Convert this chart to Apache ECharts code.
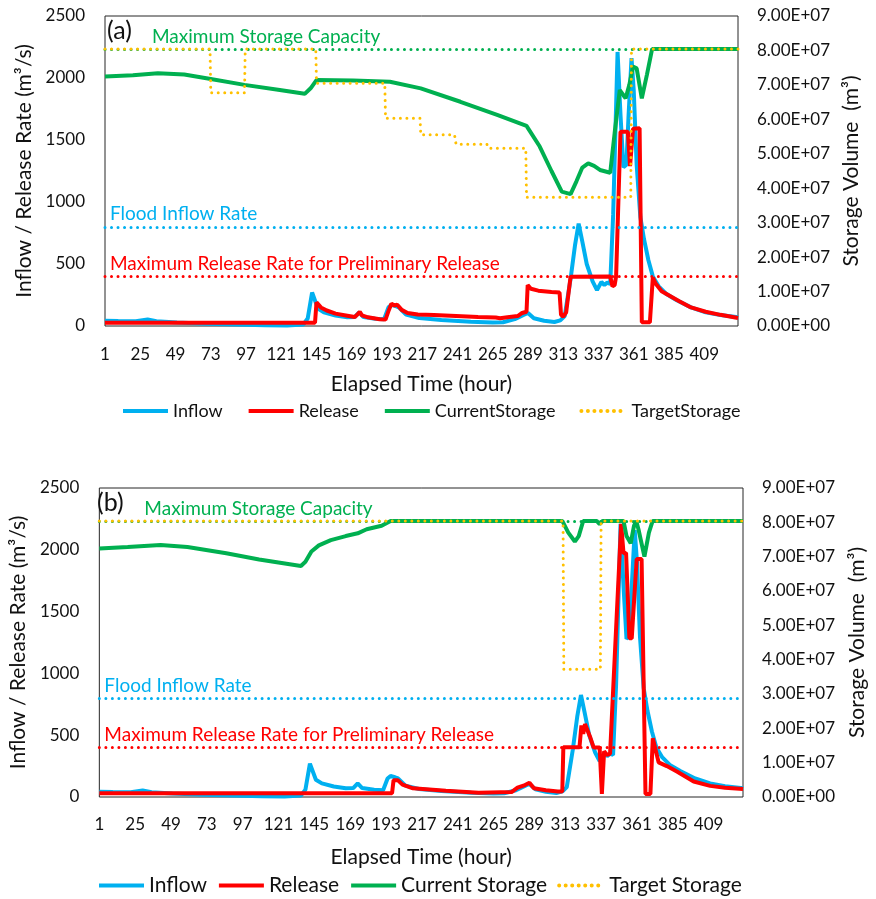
<!DOCTYPE html>
<html><head><meta charset="utf-8">
<script src="https://cdn.jsdelivr.net/npm/echarts/dist/echarts.min.js"></script>
<style>html,body{margin:0;padding:0;background:#fff}#c{width:876px;height:899px}</style>
</head><body><div id="c"></div>
<script>
// ---------- data (hour, value) ----------
const xTickLabels = [1,25,49,73,97,121,145,169,193,217,241,265,289,313,337,361,385,409];
const maxStorageCapacity = 8.04e7;   // m3
const floodInflowRate = 800;         // m3/s
const maxPrelimRelease = 400;        // m3/s

const inflow = [[1,42],[10,40],[22,38],[30,52],[36,38],[50,28],[70,18],[90,12],[110,6],[125,4],[136,12],[139,60],[142,270],[146,140],[150,110],[158,85],[166,70],[171,72],[174,110],[177,72],[185,58],[191,55],[194,150],[196,170],[199,160],[201,150],[206,92],[215,65],[230,48],[250,35],[265,28],[272,30],[280,55],[286,90],[289,105],[293,62],[300,42],[307,32],[311,45],[314,80],[318,380],[321,650],[323.5,825],[326,680],[329,500],[333,360],[336,290],[339,355],[341,330],[343,350],[345,340],[347,900],[350,2210],[352,1700],[354,1280],[356,1300],[357.5,1700],[359.5,2160],[361,1900],[363,1300],[365.5,880],[368,700],[371,530],[374,400],[378,320],[383,260],[390,210],[400,150],[410,110],[420,88],[432,70]];

const releaseA = [[1,27],[144,27],[145,190],[148,150],[152,125],[158,100],[165,85],[171,72],[173,95],[174.5,115],[176,85],[180,70],[188,55],[192,52],[194,120],[196,180],[198,165],[200,172],[203,130],[207,105],[214,92],[225,88],[240,80],[255,72],[267,68],[270,62],[275,70],[282,80],[285,105],[288,115],[288.8,330],[291,300],[296,285],[305,275],[310.5,270],[311.5,90],[313,75],[315,110],[318,398],[345,400],[346.5,320],[348,330],[349,400],[352,1567],[357,1567],[358.5,1290],[360.5,1590],[365,1595],[366.5,30],[372,30],[374,390],[376,340],[380,280],[386,240],[392,200],[400,150],[410,115],[420,90],[432,65]];

const currentStorageA = [[1,7.24e7],[20,7.28e7],[37,7.34e7],[55,7.3e7],[73,7.17e7],[96,7.0e7],[120,6.85e7],[137,6.74e7],[141,6.9e7],[145,7.14e7],[170,7.13e7],[195,7.09e7],[216,6.9e7],[243,6.51e7],[268,6.13e7],[288,5.81e7],[297,5.21e7],[305,4.5e7],[312,3.9e7],[318,3.83e7],[322,4.2e7],[326,4.6e7],[330,4.72e7],[334,4.65e7],[338,4.53e7],[345,4.45e7],[348,5.6e7],[351.5,6.85e7],[354,6.7e7],[355.5,6.61e7],[358,7.0e7],[360.5,7.53e7],[363,7.48e7],[366.5,6.61e7],[370,7.3e7],[373.5,8.04e7],[432,8.04e7]];

const targetStorageA = [[1,8.04e7],[72.5,8.04e7],[73,6.77e7],[96,6.77e7],[96.5,8.04e7],[144.5,8.04e7],[145,7.05e7],[191.5,7.05e7],[192,6.03e7],[215.5,6.03e7],[216,5.55e7],[239,5.55e7],[240,5.28e7],[261,5.28e7],[262,5.16e7],[287.5,5.16e7],[288,3.74e7],[359,3.74e7],[359.5,8.04e7],[432,8.04e7]];

const releaseB = [[1,30],[197,30],[198,135],[201,135],[204,100],[211,70],[233,50],[255,35],[277,40],[281,75],[286,97],[289,115],[292,70],[300,55],[308,45],[311,45],[311.7,402],[322.5,402],[323.8,580],[325,510],[326.2,590],[329.5,490],[332,400],[336,400],[337.5,25],[339,370],[341,340],[343,350],[350.4,2210],[352,1971],[353.7,1975],[355.9,1284],[357.5,1284],[360.8,1925],[364.1,1925],[366.7,25],[370,25],[371.6,475],[375.5,280],[381,250],[388,205],[399,125],[410,90],[420,75],[432,65]];

const currentStorageB = [[1,7.24e7],[20,7.28e7],[42,7.34e7],[60,7.28e7],[86,7.1e7],[108,6.92e7],[136,6.73e7],[139,6.85e7],[143,7.15e7],[148,7.33e7],[156,7.48e7],[166,7.6e7],[174,7.68e7],[180,7.8e7],[190,7.9e7],[196,8.04e7],[311,8.04e7],[315,7.7e7],[319.4,7.44e7],[322,7.6e7],[325,8.04e7],[334,8.04e7],[336,7.95e7],[338,8.04e7],[352,8.04e7],[354,7.6e7],[356.8,7.39e7],[359,7.9e7],[360.5,8.04e7],[362,7.8e7],[366,7.0e7],[369,7.7e7],[371.5,8.04e7],[432,8.04e7]];

const targetStorageB = [[1,8.04e7],[311.5,8.04e7],[312,3.72e7],[336.5,3.72e7],[337,8.04e7],[432,8.04e7]];

// ---------- styling ----------
const FONT = 'Lato, "Liberation Sans", sans-serif';
const C_IN = '#00B0F0', C_RE = '#FF0000', C_CS = '#00B050', C_TS = '#FFC000';
const DOT = [0.01, 6.5];

function pts(arr){ return arr.map(p => [p[0]-1, p[1]]); }
function sci(v){
  if (v === 0) return '0.00E+00';
  const e = Math.floor(Math.log10(v) + 1e-9);
  const m = v / Math.pow(10, e);
  return m.toFixed(2) + 'E+' + String(e).padStart(2, '0');
}

const grids = [
  {left:105, top:16, width:633, height:310, show:true, borderColor:'#262626', borderWidth:1, backgroundColor:'transparent'},
  {left:95, top:488, width:652, height:309, show:true, borderColor:'#262626', borderWidth:1, backgroundColor:'transparent'}
];

function xAx(gi, gap, nameGap){
  return {type:'value', gridIndex:gi, min:0, max:431, interval:24,
    axisLine:{show:false}, axisTick:{show:false}, splitLine:{show:false},
    axisLabel:{margin:gap, color:'#111', fontFamily:FONT, fontSize:17,
      formatter: v => (xTickLabels.indexOf(v+1) >= 0 ? String(v+1) : '')},
    name:'Elapsed Time (hour)', nameLocation:'middle', nameGap:nameGap,
    nameTextStyle:{color:'#111', fontFamily:FONT, fontSize:21}};
}
function yLeft(gi, nameGap){
  return {type:'value', gridIndex:gi, position:'left', min:0, max:2500, interval:500,
    axisLine:{show:false}, axisTick:{show:false}, splitLine:{show:false},
    axisLabel:{margin:20, color:'#111', fontFamily:FONT, fontSize:17, formatter: v => String(v)},
    name:'Inflow / Release Rate (m³/s)', nameLocation:'middle', nameRotate:90, nameGap:nameGap,
    nameTextStyle:{color:'#111', fontFamily:FONT, fontSize:21}};
}
function yRight(gi, nameGap){
  return {type:'value', gridIndex:gi, position:'right', min:0, max:9e7, interval:1e7,
    axisLine:{show:false}, axisTick:{show:false}, splitLine:{show:false},
    axisLabel:{margin:19, color:'#111', fontFamily:FONT, fontSize:17, formatter:sci},
    name:'Storage Volume  (m³)', nameLocation:'middle', nameRotate:90, nameGap:nameGap,
    nameTextStyle:{color:'#111', fontFamily:FONT, fontSize:21}};
}

function refLabel(color, padLeft){
  return {show:true, position:'insideStartTop', distance:3, color:color, fontFamily:FONT, fontSize:19,
    padding:[0,0,0,padLeft]};
}

function panelSeries(gi, relData, csData, tsData, csName, tsName, capPad){
  const xi = gi, yl = gi*2, yr = gi*2+1;
  const base = {type:'line', xAxisIndex:xi, showSymbol:false, symbol:'none', animation:false, silent:true};
  return [
    Object.assign({}, base, {name:'Inflow', yAxisIndex:yl, data:pts(inflow), z:2,
      lineStyle:{color:C_IN, width:4}, itemStyle:{color:C_IN}}),
    Object.assign({}, base, {name:'Release', yAxisIndex:yl, data:pts(relData), z:3,
      lineStyle:{color:C_RE, width:4}, itemStyle:{color:C_RE},
      markLine:{silent:true, symbol:'none', animation:false,
        data:[
          {yAxis:floodInflowRate, lineStyle:{color:C_IN, width:3, type:DOT, cap:'round'},
            label:refLabel(C_IN, 2), name:'Flood Inflow Rate'},
          {yAxis:maxPrelimRelease, lineStyle:{color:C_RE, width:3, type:DOT, cap:'round'},
            label:refLabel(C_RE, 2), name:'Maximum Release Rate for Preliminary Release'}
        ],
        label:{formatter: p => p.name}}}),
    Object.assign({}, base, {name:csName, yAxisIndex:yr, data:pts(csData), z:4,
      lineStyle:{color:C_CS, width:4}, itemStyle:{color:C_CS}}),
    Object.assign({}, base, {name:tsName, yAxisIndex:yr, data:pts(tsData), z:5,
      lineStyle:{color:C_TS, width:3, type:DOT, cap:'round'}, itemStyle:{color:C_TS},
      markLine:{silent:true, symbol:'none', animation:false,
        data:[{yAxis:maxStorageCapacity, lineStyle:{color:C_CS, width:3, type:DOT, cap:'round'},
          label:refLabel(C_CS, capPad), name:'Maximum Storage Capacity'}],
        label:{formatter: p => p.name}}})
  ];
}

const legendCommon = {orient:'horizontal', itemWidth:45, itemHeight:10,
  lineStyle:{width:4},
  itemStyle:{color:'transparent', borderWidth:0, opacity:0}};

const option = {
  backgroundColor:'#fff',
  animation:false,
  grid: grids,
  xAxis:[xAx(0, 20, 48), xAx(1, 19, 50)],
  yAxis:[yLeft(0, 58), yRight(0, 100), yLeft(1, 67), yRight(1, 104)],
  legend:[
    Object.assign({}, legendCommon, {left:116, top:397, itemGap:24, textStyle:{color:'#111', fontFamily:FONT, fontSize:18},
      data:['Inflow','Release','CurrentStorage','TargetStorage']}),
    Object.assign({}, legendCommon, {left:92, top:870, itemGap:10, textStyle:{color:'#111', fontFamily:FONT, fontSize:21},
      data:['Inflow','Release','Current Storage','Target Storage']})
  ],
  graphic:[
    {type:'text', left:107, top:18, style:{text:'(a)', fontFamily:FONT, fontSize:25, fill:'#111'}},
    {type:'text', left:97, top:490, style:{text:'(b)', fontFamily:FONT, fontSize:25, fill:'#111'}}
  ],
  series: [].concat(
    panelSeries(0, releaseA, currentStorageA, targetStorageA, 'CurrentStorage', 'TargetStorage', 44),
    panelSeries(1, releaseB, currentStorageB, targetStorageB, 'Current Storage', 'Target Storage', 42)
  )
};

const chart = echarts.init(document.getElementById('c'), null, {renderer:'canvas'});
chart.setOption(option);
</script>
</body></html>
